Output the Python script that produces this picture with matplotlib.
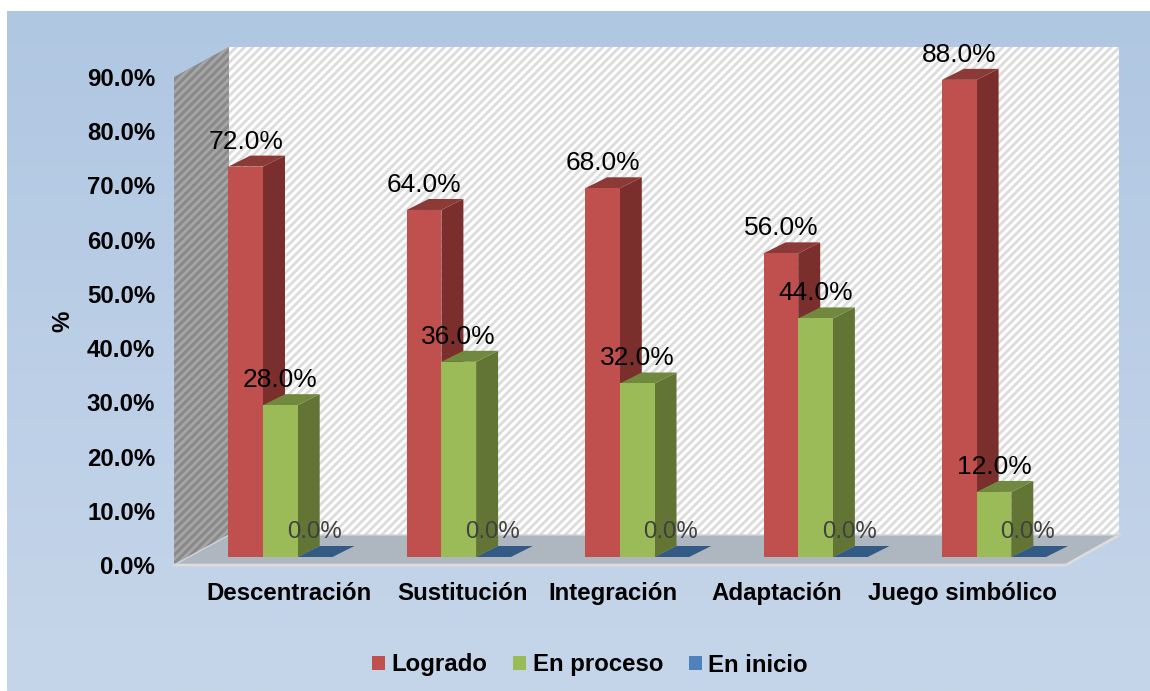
import numpy as np
import matplotlib
matplotlib.use('Agg')
import matplotlib.pyplot as plt
from matplotlib.colors import LinearSegmentedColormap
from matplotlib.patches import Patch, Polygon
from matplotlib.ticker import PercentFormatter

plt.rcParams['font.family'] = ['Liberation Sans', 'DejaVu Sans']
plt.rcParams['hatch.linewidth'] = 2.0

categories = ['Descentración', 'Sustitución', 'Integración', 'Adaptación', 'Juego simbólico']
series_names = ['Logrado', 'En proceso', 'En inicio']
logrado = [72.0, 64.0, 68.0, 56.0, 88.0]
en_proceso = [28.0, 36.0, 32.0, 44.0, 12.0]
en_inicio = [0.0, 0.0, 0.0, 0.0, 0.0]
y_ticks = [0, 10, 20, 30, 40, 50, 60, 70, 80, 90]

W, H = 1150, 691
# front plane of the fake 3D box, in pixels
LEFT, RIGHT, BASE, TOP = 174, 1066, 565, 77
PX_X = 5.0/(RIGHT - LEFT)
PX_Y = 90.0/(BASE - TOP)

front_colors = ['#c0504d', '#9bbb59', '#4f81bd']
top_colors = ['#8c3a38', '#71893f', '#3a6595']
side_colors = ['#7b2f2d', '#637535', '#335a85']

def shade( ax, pts, color, z, **kwargs ):
  ax.add_patch( Polygon( pts, closed=True, facecolor=color, edgecolor='none', zorder=z, clip_on=False, **kwargs ) )

def bar3d( ax, x, width, value, s, z ):
  dx, dy = 22*PX_X, 11*PX_Y
  y0 = 8*PX_Y
  y1 = y0 + value
  if value > 0:
    ax.bar( x, value, width, bottom=y0, align='edge', color=front_colors[s], zorder=z+0.2, clip_on=False )
    shade( ax, [(x+width, y0), (x+width+dx, y0+dy), (x+width+dx, y1+dy), (x+width, y1)], side_colors[s], z )
  shade( ax, [(x, y1), (x+width, y1), (x+width+dx, y1+dy), (x+dx, y1+dy)], top_colors[s] if value > 0 else side_colors[s], z+0.1 )

fig = plt.figure( figsize=(W/100, H/100), dpi=100, facecolor='white' )

# background gradient
bg = fig.add_axes( [7/W, 0, (W-7)/W, (H-11)/H] )
bg.imshow( np.linspace( 0, 1, 256 ).reshape( -1, 1 ), aspect='auto', cmap=LinearSegmentedColormap.from_list( 'bg', ['#b0c7e2', '#c6d6ea'] ) )
bg.axis( 'off' )

ax = fig.add_axes( [LEFT/W, 1 - BASE/H, (RIGHT-LEFT)/W, (BASE-TOP)/H] )
ax.patch.set_alpha( 0 )
ax.set_xlim( 0, 5 )
ax.set_ylim( 0, 90 )

# walls and floor
ddx, ddy = 55*PX_X, 30*PX_Y
wall = Polygon( [(ddx, ddy), (5+ddx-0.01, ddy), (5+ddx-0.01, 90+ddy), (ddx, 90+ddy)], closed=True, facecolor='white', edgecolor='#dcdcdc', hatch='////', linewidth=0, zorder=1, clip_on=False )
ax.add_patch( wall )
side = Polygon( [(0, 0), (ddx, ddy), (ddx, 90+ddy), (0, 90)], closed=True, facecolor='#8a8a8a', edgecolor='#a6a6a6', hatch='////', linewidth=0, zorder=1, clip_on=False )
ax.add_patch( side )
shade( ax, [(0, 0), (ddx, ddy), (5+ddx-0.01, ddy), (5, 0)], '#aeb6bf', 2 )
ax.plot( [0, 5, 5+ddx-0.01], [0, 0, ddy], color='#dcdcdc', lw=2, zorder=2.5, clip_on=False )
ax.plot( [0, ddx, 5+ddx-0.01], [0, ddy, ddy], color='#d0d4d8', lw=1, zorder=2.5, clip_on=False )

# bars
series = [logrado, en_proceso, en_inicio]
bar_w = 34.7*PX_X
first = 54.3*PX_X
for i in range( len( categories ) ):
  for s in range( 3 ):
    x = i + first + s*bar_w
    z = 3 + i + s*0.3
    bar3d( ax, x, bar_w, series[s][i], s, z )

# value labels go on top of everything
for i in range( len( categories ) ):
  for s in range( 3 ):
    x = i + first + (s + 0.5)*bar_w
    v = series[s][i]
    ax.annotate( '%.1f%%' % v, (x, v + 8*PX_Y), xytext=(-0.7 if v == 0 else 0, 18), textcoords='offset points', ha='center', va='center',
                 fontsize=17.3 if v == 0 else 19, color='#404040' if v == 0 else 'black', zorder=20, annotation_clip=False )

ax.set_yticks( y_ticks )
ax.yaxis.set_major_formatter( PercentFormatter( decimals=1 ) )
# the labels in the source are not evenly spaced
label_px = [288.5, 463, 612.5, 776.5, 963]
ax.set_xticks( [(p - LEFT)*PX_X for p in label_px] )
ax.set_xticklabels( categories )
ax.tick_params( axis='both', length=0, labelsize=17.3 )
ax.tick_params( axis='y', pad=13.5 )
ax.tick_params( axis='x', pad=12 )
for lab in ax.get_xticklabels() + ax.get_yticklabels():
  lab.set_fontweight( 'bold' )
for sp in ax.spines.values():
  sp.set_visible( False )
ax.set_ylabel( '%', fontsize=17.3, fontweight='bold', labelpad=9 )

handles = [Patch( facecolor=c, edgecolor='none' ) for c in front_colors]
leg = fig.legend( handles, series_names, loc='center', bbox_to_anchor=(590/W, 1 - 665/H), ncol=3, frameon=False,
                  prop={'size': 17.3, 'weight': 'bold'}, handlelength=0.55, handleheight=0.55, handletextpad=0.27, columnspacing=1.05 )

fig.savefig( 'out.png', dpi=100 )
